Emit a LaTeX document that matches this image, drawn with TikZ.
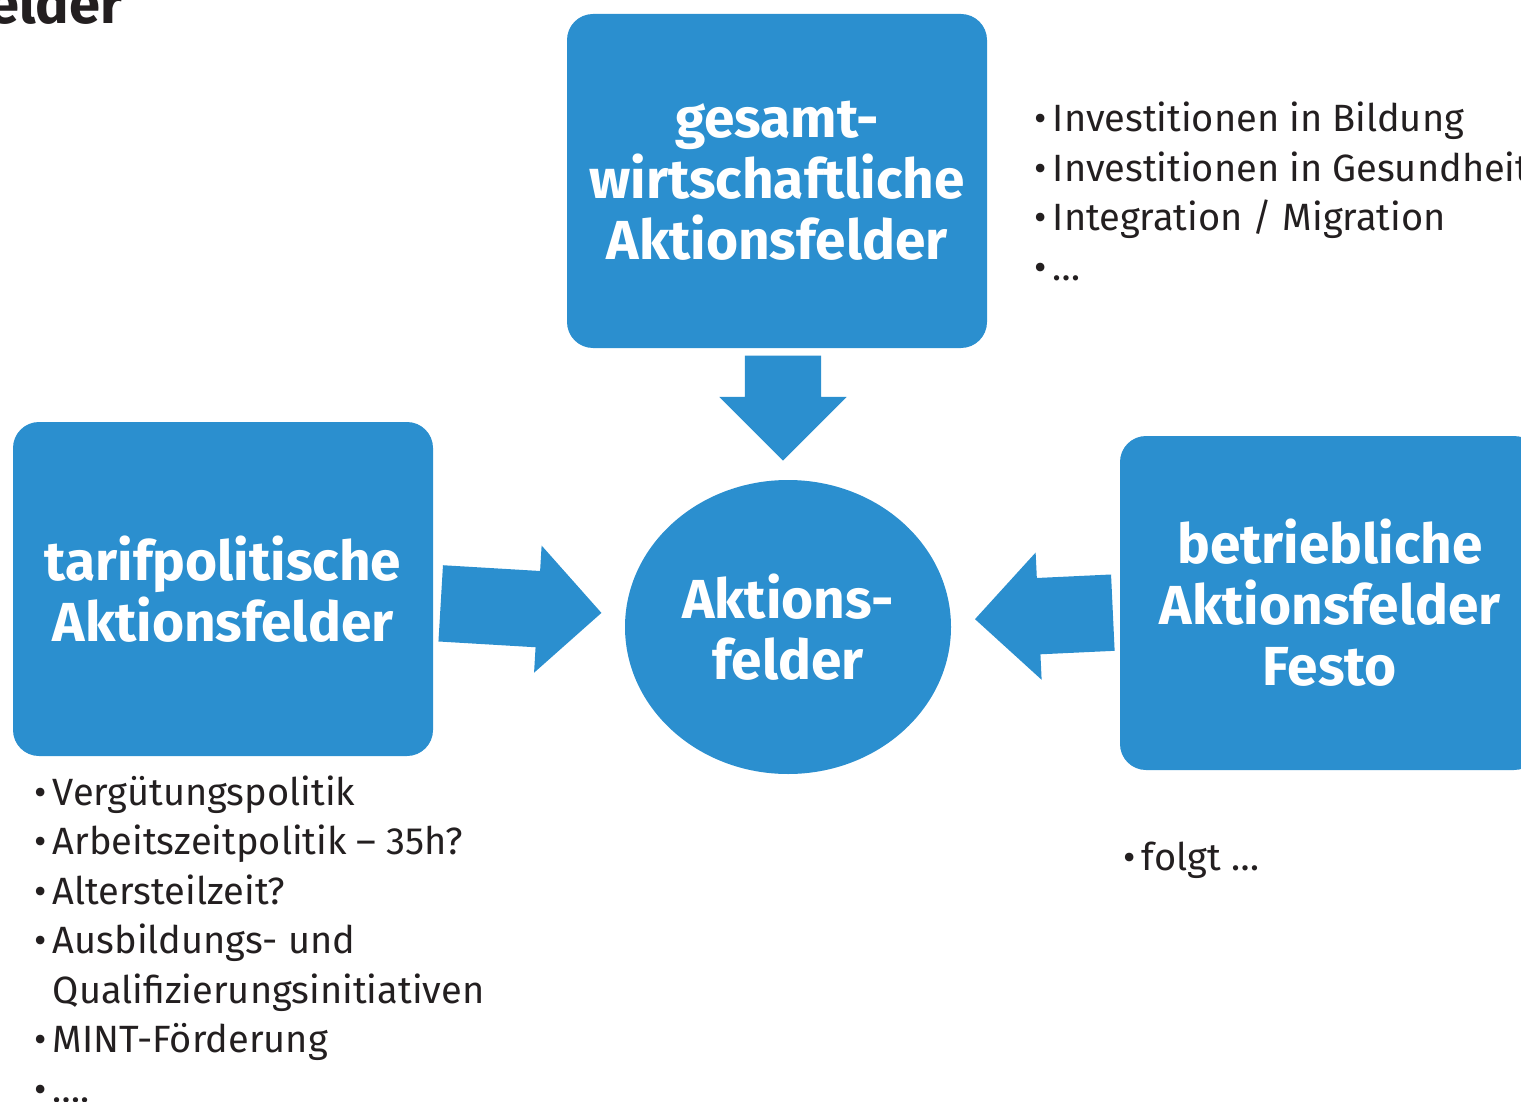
\documentclass[tikz,border=0pt]{standalone}
\usepackage{fontspec}
\setmainfont{Fira Sans}
\usetikzlibrary{shapes.geometric,shapes.arrows,positioning}
\definecolor{feldblau}{HTML}{2B8FCF}
\definecolor{tinte}{HTML}{231F20}
\begin{document}
\begin{tikzpicture}[x=1pt, y=-1pt,
		feld/.style = {rectangle, fill=feldblau, rounded corners=26pt, minimum width=420pt, minimum height=334pt, inner sep=0pt, text=white, align=center, font=\bfseries\fontsize{55}{61}\selectfont},
		kern/.style = {ellipse, fill=feldblau, minimum width=326pt, minimum height=294pt, inner sep=0pt, text=white, align=center, font=\bfseries\fontsize{55}{61}\selectfont},
		pfeil/.style = {single arrow, fill=feldblau, single arrow head extend=25.5pt, single arrow tip angle=90, inner xsep=0pt, inner ysep=38pt},
		punkt/.style = {anchor=base west, inner sep=0pt, text=tinte, font=\fontsize{38}{46}\selectfont},
		]
		\useasboundingbox (0, 0) rectangle (1521, 1102);
		
		%Nodes
		\node[anchor=base east, inner sep=0pt, text=tinte, font=\bfseries\fontsize{56}{60}\selectfont]	(titel)	at	(123, 24)	{elder};
		\node[feld]	(gesamt)	at	(777, 181)	{gesamt-\\wirtschaftliche\\Aktionsfelder};
		\node[feld]	(tarif)	at	(223, 589)	{tarifpolitische\\Aktionsfelder};
		\node[feld]	(betrieb)	at	(1330, 603)	{betriebliche\\Aktionsfelder\\Festo};
		\node[kern]	(aktion)	at	(788, 627)	{Aktions-\\felder};
		
		%Arrows
		\node[pfeil, minimum height=105pt, rotate=-90]	(p1)	at	(783, 389)	{};
		\node[pfeil, minimum height=161pt, rotate=-3.4]	(p2)	at	(502, 607)	{};
		\node[pfeil, minimum height=138pt, rotate=182.7]	(p3)	at	(1063, 615)	{};
		
		%Lists
		\foreach \txt [count=\i] in {•\,Investitionen in Bildung, •\,Investitionen in Gesundheit, •\,Integration / Migration, •\,…}
			\node[punkt]	(oben\i)	at	(1034, 132+49.5*\i-49.5)	{\txt};
		\foreach \txt [count=\i] in {•\,Vergütungspolitik, •\,Arbeitszeitpolitik – 35h?, •\,Altersteilzeit?, •\,Ausbildungs- und, \phantom{•\,}Qualifizierungsinitiativen, •\,MINT-Förderung, •\,….}
			\node[punkt]	(links\i)	at	(34, 805+49.5*\i-49.5)	{\txt};
		\node[punkt]	(rechts)	at	(1123, 870)	{•\,folgt …};
	\end{tikzpicture}
\end{document}
